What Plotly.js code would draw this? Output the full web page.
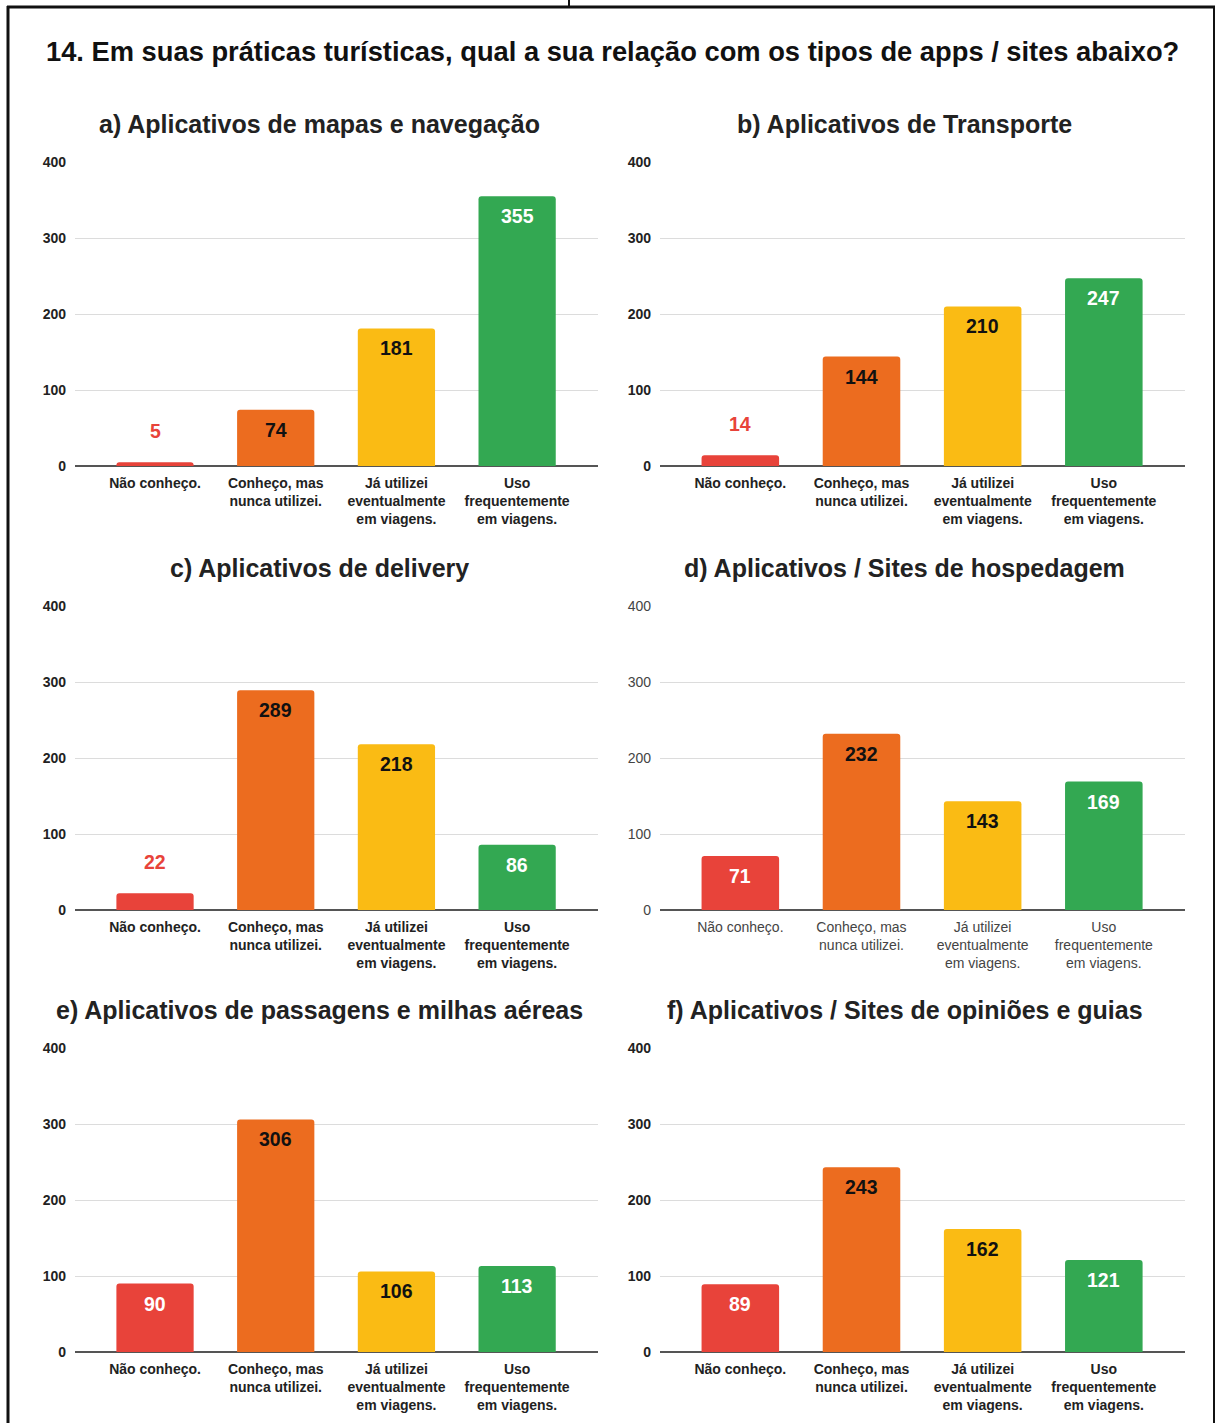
<!DOCTYPE html>
<html>
<head>
<meta charset="utf-8">
<script src="https://cdn.plot.ly/plotly-3.0.1.min.js"></script>
<style>
  html, body { margin: 0; padding: 0; background: #fff; }
  #chart { width: 1216px; height: 1423px; }
</style>
</head>
<body>
<div id="chart"></div>
<script>
// Survey question 14: relationship with types of travel apps / sites
const mainTitle = "14. Em suas práticas turísticas, qual a sua relação com os tipos de apps / sites abaixo?";

const categories = [
  "Não conheço.",
  "Conheço, mas<br>nunca utilizei.",
  "Já utilizei<br>eventualmente<br>em viagens.",
  "Uso<br>frequentemente<br>em viagens."
];

const panelTitles = [
  "a) Aplicativos de mapas e navegação",
  "b) Aplicativos de Transporte",
  "c) Aplicativos de delivery",
  "d) Aplicativos / Sites de hospedagem",
  "e) Aplicativos de passagens e milhas aéreas",
  "f) Aplicativos / Sites de opiniões e guias"
];

const valuesMaps      = [5, 74, 181, 355];
const valuesTransport = [14, 144, 210, 247];
const valuesDelivery  = [22, 289, 218, 86];
const valuesLodging   = [71, 232, 143, 169];
const valuesFlights   = [90, 306, 106, 113];
const valuesReviews   = [89, 243, 162, 121];

const yTicks = [0, 100, 200, 300, 400];

const barColors = ["#E8433A", "#EC6C1F", "#FABB14", "#33A852"];
const insideLabelColors = ["#ffffff", "#111111", "#111111", "#ffffff"];

const panelValues = [valuesMaps, valuesTransport, valuesDelivery, valuesLodging, valuesFlights, valuesReviews];

// pixel geometry of the page
const W = 1216, H = 1423;
const colX = [[75, 598], [660, 1185]];
const rowY = [[162, 466], [606, 910], [1048, 1352]]; // [top(400), bottom(0)]
const FONT = "Liberation Sans, Arial, sans-serif";

const px = v => v / W;
const py = v => 1 - v / H;

const data = [];
const layout = {
  width: W, height: H,
  margin: {l: 0, r: 0, t: 0, b: 0},
  paper_bgcolor: "#ffffff",
  plot_bgcolor: "#ffffff",
  showlegend: false,
  font: {family: FONT, color: "#222"},
  annotations: [],
  shapes: []
};

panelValues.forEach((vals, i) => {
  const col = i % 2, row = Math.floor(i / 2);
  const n = i + 1;
  const xa = "x" + (n === 1 ? "" : n), ya = "y" + (n === 1 ? "" : n);
  const xKey = "xaxis" + (n === 1 ? "" : n), yKey = "yaxis" + (n === 1 ? "" : n);
  const lightPanel = (i === 3);

  data.push({
    type: "bar",
    x: [0, 1, 2, 3],
    y: vals,
    xaxis: xa, yaxis: ya,
    width: 0.64,
    marker: {color: barColors, cornerradius: 3, line: {width: 0}},
    hoverinfo: "skip"
  });

  layout[xKey] = {
    domain: [px(colX[col][0]), px(colX[col][1])],
    anchor: ya,
    range: [-0.663, 3.67],
    tickmode: "array",
    tickvals: [0, 1, 2, 3],
    ticktext: categories,
    showgrid: false,
    zeroline: false,
    showline: false,
    ticks: "",
    ticklabelstandoff: 7,
    tickfont: {family: FONT, size: 14, color: lightPanel ? "#444" : "#222", weight: lightPanel ? "normal" : "bold"},
    fixedrange: true
  };
  layout[yKey] = {
    domain: [py(rowY[row][1]), py(rowY[row][0])],
    anchor: xa,
    range: [0, 400],
    tickmode: "array",
    tickvals: yTicks,
    ticktext: yTicks.map(String),
    showgrid: true,
    gridcolor: "#dcdcdc",
    gridwidth: 1,
    zeroline: true,
    zerolinecolor: "#555",
    zerolinewidth: 1.5,
    showline: false,
    ticks: "",
    ticklabelstandoff: 8,
    tickfont: {family: FONT, size: 14, color: lightPanel ? "#444" : "#222", weight: lightPanel ? "normal" : "bold"},
    fixedrange: true
  };

  // panel heading, centred over plot plus tick labels
  layout.annotations.push({
    xref: "paper", yref: "paper",
    x: px((colX[col][0] - 35 + colX[col][1]) / 2),
    y: py(rowY[row][0] - 38),
    text: panelTitles[i],
    showarrow: false,
    xanchor: "center", yanchor: "middle",
    font: {family: FONT, size: 25, color: "#222", weight: "bold"}
  });

  // value labels: inside near the top, or above short bars
  vals.forEach((v, k) => {
    const outside = v < 40;
    layout.annotations.push({
      xref: xa, yref: ya,
      x: k, y: v,
      text: String(v),
      showarrow: false,
      xanchor: "center", yanchor: "middle",
      yshift: outside ? 31 : -20,
      font: {family: FONT, size: 19.5, weight: "bold", color: outside ? barColors[k] : insideLabelColors[k]}
    });
  });
});

// main heading
layout.annotations.push({
  xref: "paper", yref: "paper",
  x: px(612), y: py(52),
  text: mainTitle,
  showarrow: false,
  xanchor: "center", yanchor: "middle",
  font: {family: FONT, size: 27.3, color: "#111", weight: "bold"}
});

// frame around the figure
layout.shapes.push(
  {type: "line", xref: "paper", yref: "paper", x0: px(7), x1: px(1215), y0: py(7), y1: py(7), line: {color: "#111", width: 3}},
  {type: "line", xref: "paper", yref: "paper", x0: px(8), x1: px(8), y0: py(6), y1: py(1423), line: {color: "#111", width: 3}},
  {type: "line", xref: "paper", yref: "paper", x0: px(1214), x1: px(1214), y0: py(6), y1: py(1423), line: {color: "#111", width: 2}},
  {type: "line", xref: "paper", yref: "paper", x0: px(569), x1: px(569), y0: py(0), y1: py(7), line: {color: "#111", width: 2}}
);

Plotly.newPlot("chart", data, layout, {displayModeBar: false, staticPlot: true});
</script>
</body>
</html>
